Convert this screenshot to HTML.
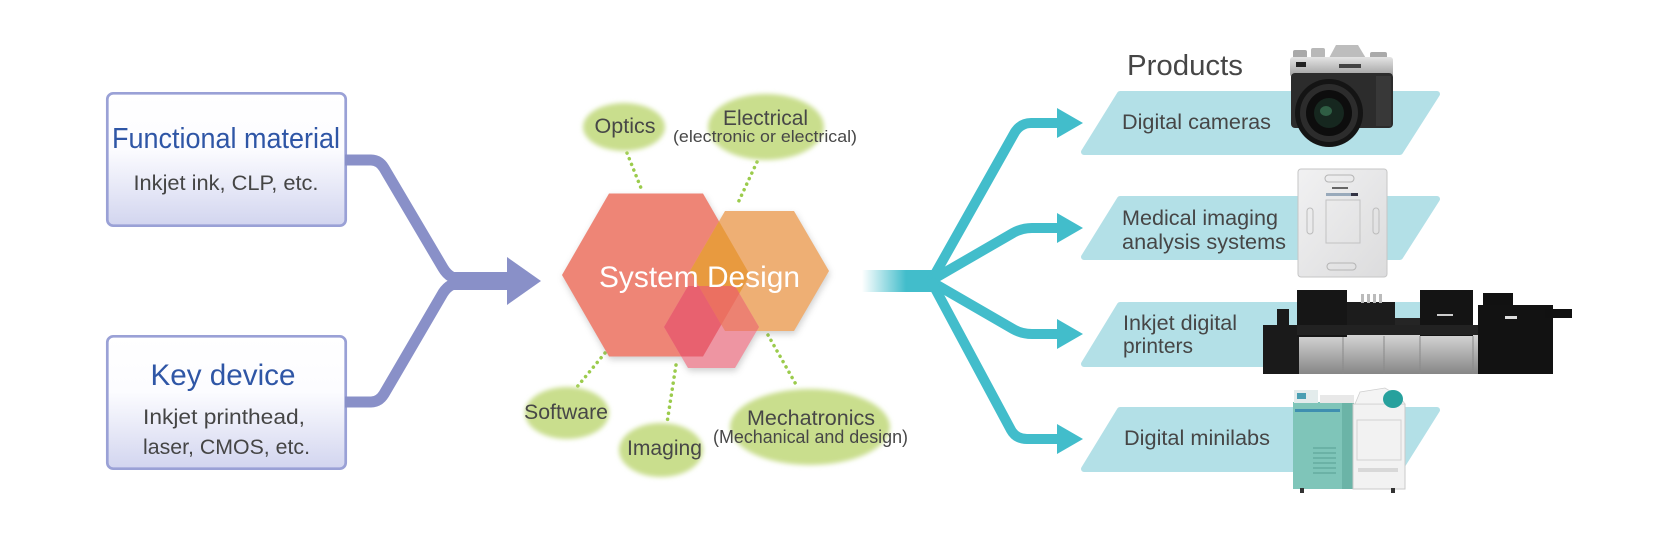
<!DOCTYPE html>
<html><head><meta charset="utf-8"><style>
html,body{margin:0;padding:0;background:#fff;}
svg{display:block;}
text{font-family:"Liberation Sans",Arial,sans-serif;}
</style></head><body>
<svg width="1680" height="540" viewBox="0 0 1680 540" xmlns="http://www.w3.org/2000/svg">
<defs>
 <linearGradient id="boxg" x1="0" y1="0" x2="0" y2="1">
  <stop offset="0" stop-color="#ffffff"/><stop offset="0.42" stop-color="#fcfcff"/><stop offset="1" stop-color="#d2d5ef"/>
 </linearGradient>
 <linearGradient id="tealfade" gradientUnits="userSpaceOnUse" x1="862" y1="0" x2="906" y2="0">
  <stop offset="0" stop-color="#42bdcb" stop-opacity="0"/><stop offset="1" stop-color="#42bdcb"/>
 </linearGradient>
 <linearGradient id="silver" x1="0" y1="0" x2="0" y2="1">
  <stop offset="0" stop-color="#e4e4e4"/><stop offset="1" stop-color="#9d9d9d"/>
 </linearGradient>
 <linearGradient id="pgray" x1="0" y1="0" x2="0" y2="1">
  <stop offset="0" stop-color="#d6d6d6"/><stop offset="1" stop-color="#868686"/>
 </linearGradient>
 <linearGradient id="panel" x1="0" y1="0" x2="1" y2="1">
  <stop offset="0" stop-color="#f1f1f2"/><stop offset="1" stop-color="#dcdcdd"/>
 </linearGradient>
 <filter id="blur3" x="-30%" y="-30%" width="160%" height="160%"><feGaussianBlur stdDeviation="2.5"/></filter>
 <filter id="hexsh" x="-20%" y="-20%" width="140%" height="140%"><feGaussianBlur stdDeviation="3.5"/></filter>
 <clipPath id="cR"><polygon points="562,275 609,193.5 703,193.5 750,275 703,356.5 609,356.5"/></clipPath>
 <clipPath id="cO"><polygon points="690,271 725,211 794,211 829,271 794,331 725,331"/></clipPath>
</defs>

<!-- Left boxes -->
<rect x="107.3" y="93.3" width="238.4" height="132.4" rx="6" fill="url(#boxg)" stroke="#9aa1d6" stroke-width="2.7"/>
<rect x="107.3" y="336.3" width="238.4" height="132.4" rx="6" fill="url(#boxg)" stroke="#9aa1d6" stroke-width="2.7"/>
<text x="226" y="148" font-size="29" fill="#2f56a6" text-anchor="middle" textLength="228" lengthAdjust="spacingAndGlyphs">Functional material</text>
<text x="226" y="190" font-size="21.5" fill="#454545" text-anchor="middle" textLength="185" lengthAdjust="spacingAndGlyphs">Inkjet ink, CLP, etc.</text>
<text x="223" y="385" font-size="29.5" fill="#2f56a6" text-anchor="middle" textLength="145" lengthAdjust="spacingAndGlyphs">Key device</text>
<text x="224" y="424" font-size="21.5" fill="#454545" text-anchor="middle" textLength="162" lengthAdjust="spacingAndGlyphs">Inkjet printhead,</text>
<text x="226.5" y="454" font-size="21.5" fill="#454545" text-anchor="middle" textLength="167" lengthAdjust="spacingAndGlyphs">laser, CMOS, etc.</text>

<!-- Purple connectors -->
<g fill="none" stroke="#8990c8" stroke-width="11" stroke-linejoin="round">
 <path d="M345,160 H371 Q379,160 384,168 L443,268 Q450,280 464,280"/>
 <path d="M345,402 H371 Q379,402 384,394 L443,293 Q450,282 464,282"/>
</g>
<rect x="452" y="272" width="58" height="18" fill="#8990c8"/>
<polygon points="507,257 541,281 507,305" fill="#8990c8"/>

<!-- Dotted green lines -->
<g stroke="#9bcb4c" stroke-width="3.5" stroke-linecap="round" stroke-dasharray="0.1 6" fill="none">
 <line x1="627" y1="153" x2="641" y2="188"/>
 <line x1="757" y1="162" x2="737" y2="205"/>
 <line x1="605" y1="353" x2="577" y2="387"/>
 <line x1="676" y1="365" x2="667" y2="423"/>
 <line x1="768" y1="335" x2="798" y2="388"/>
</g>

<!-- Hexagons -->
<g filter="url(#hexsh)" opacity="0.35" transform="translate(1,3)">
 <polygon points="562,275 609,193.5 703,193.5 750,275 703,356.5 609,356.5" fill="#777"/>
 <polygon points="690,271 725,211 794,211 829,271 794,331 725,331" fill="#777"/>
 <polygon points="664,327 688,286 735,286 759,327 735,368 688,368" fill="#777"/>
</g>
<polygon points="562,275 609,193.5 703,193.5 750,275 703,356.5 609,356.5" fill="#ee8576"/>
<polygon points="690,271 725,211 794,211 829,271 794,331 725,331" fill="#eeaf74"/>
<polygon points="664,327 688,286 735,286 759,327 735,368 688,368" fill="#ee95a2"/>
<polygon points="690,271 725,211 794,211 829,271 794,331 725,331" fill="#e89a3f" clip-path="url(#cR)"/>
<polygon points="664,327 688,286 735,286 759,327 735,368 688,368" fill="#e8616f" clip-path="url(#cR)"/>
<polygon points="664,327 688,286 735,286 759,327 735,368 688,368" fill="#ec8272" clip-path="url(#cO)"/>
<g clip-path="url(#cR)"><polygon points="664,327 688,286 735,286 759,327 735,368 688,368" fill="#eb7061" clip-path="url(#cO)"/></g>
<text x="599" y="287" font-size="30" fill="#ffffff" textLength="201" lengthAdjust="spacingAndGlyphs">System Design</text>

<!-- Green ellipses -->
<g fill="#c9de8d" filter="url(#blur3)">
 <ellipse cx="624" cy="127" rx="41" ry="24"/>
 <ellipse cx="766" cy="127" rx="58" ry="33"/>
 <ellipse cx="567" cy="413" rx="42" ry="26"/>
 <ellipse cx="661" cy="450" rx="42" ry="27"/>
 <ellipse cx="810" cy="427" rx="80" ry="38"/>
</g>
<g fill="#474747" text-anchor="middle">
 <text x="625" y="133" font-size="21.5" textLength="61" lengthAdjust="spacingAndGlyphs">Optics</text>
 <text x="765.5" y="125" font-size="21.5" textLength="85" lengthAdjust="spacingAndGlyphs">Electrical</text>
 <text x="765" y="142" font-size="17" textLength="184" lengthAdjust="spacingAndGlyphs">(electronic or electrical)</text>
 <text x="566" y="419" font-size="21.5" textLength="84" lengthAdjust="spacingAndGlyphs">Software</text>
 <text x="664.5" y="455" font-size="21.5" textLength="75" lengthAdjust="spacingAndGlyphs">Imaging</text>
 <text x="811" y="425" font-size="21.5" textLength="128" lengthAdjust="spacingAndGlyphs">Mechatronics</text>
 <text x="810.5" y="443" font-size="18" textLength="195" lengthAdjust="spacingAndGlyphs">(Mechanical and design)</text>
</g>

<!-- Teal connectors -->
<rect x="862" y="270" width="78" height="22" fill="url(#tealfade)"/>
<g fill="none" stroke="#42bdcb" stroke-width="10" stroke-linejoin="round">
 <path d="M930,283 L1015,132 Q1021,123 1031,123 H1059"/>
 <path d="M930,281 L1013,233 Q1022,228 1032,228 H1059"/>
 <path d="M930,281 L1013,329 Q1022,334 1032,334 H1059"/>
 <path d="M930,279 L1011,430 Q1016,439 1027,439 H1059"/>
</g>
<g fill="#42bdcb">
 <polygon points="1057,108 1083,123 1057,138"/>
 <polygon points="1057,213 1083,228 1057,243"/>
 <polygon points="1057,319 1083,334 1057,349"/>
 <polygon points="1057,424 1083,439 1057,454"/>
</g>

<!-- Banners -->
<g fill="#b3e0e7" stroke="#b3e0e7" stroke-width="6" stroke-linejoin="round">
 <polygon points="1084,152 1120,94 1437,94 1400,152"/>
 <polygon points="1084,257 1120,199 1437,199 1400,257"/>
 <polygon points="1084,364 1120,305 1437,305 1400,364"/>
 <polygon points="1084,469 1120,410 1437,410 1400,469"/>
</g>
<g fill="#464646">
 <text x="1127" y="75" font-size="29" textLength="116" lengthAdjust="spacingAndGlyphs">Products</text>
 <text x="1122" y="129" font-size="21.5" textLength="149" lengthAdjust="spacingAndGlyphs">Digital cameras</text>
 <text x="1122" y="225" font-size="21.5" textLength="156" lengthAdjust="spacingAndGlyphs">Medical imaging</text>
 <text x="1122" y="249" font-size="21.5" textLength="164" lengthAdjust="spacingAndGlyphs">analysis systems</text>
 <text x="1123" y="330" font-size="21.5" textLength="114" lengthAdjust="spacingAndGlyphs">Inkjet digital</text>
 <text x="1123" y="353" font-size="21.5" textLength="70" lengthAdjust="spacingAndGlyphs">printers</text>
 <text x="1124" y="445" font-size="21.5" textLength="146" lengthAdjust="spacingAndGlyphs">Digital minilabs</text>
</g>

<!-- Camera -->
<g>
 <rect x="1293" y="50" width="14" height="9" rx="2" fill="#a9a9a9"/>
 <rect x="1311" y="48" width="14" height="10" rx="2" fill="#b8b8b8"/>
 <rect x="1370" y="52" width="17" height="8" rx="2" fill="#aaaaaa"/>
 <polygon points="1328,60 1336,45 1358,45 1367,60" fill="#bdbdbd"/>
 <rect x="1290" y="57" width="103" height="20" rx="3" fill="url(#silver)"/>
 <rect x="1296" y="62" width="10" height="5" fill="#222"/>
 <rect x="1339" y="64" width="22" height="4" fill="#444"/>
 <rect x="1291" y="73" width="102" height="55" rx="4" fill="#2c2c2c"/>
 <rect x="1376" y="76" width="15" height="50" fill="#383838"/>
 <circle cx="1329" cy="113" r="34" fill="#141414"/>
 <circle cx="1329" cy="113" r="29" fill="#2c2c2c"/>
 <circle cx="1329" cy="113" r="23" fill="#0d0d0d"/>
 <circle cx="1329" cy="113" r="15" fill="#16271f"/>
 <ellipse cx="1326" cy="111" rx="6" ry="5" fill="#2f5e44"/>
</g>

<!-- Medical panel -->
<g>
 <rect x="1298" y="169" width="89" height="108" rx="3" fill="url(#panel)" stroke="#c6c6c6" stroke-width="1"/>
 <rect x="1325" y="175" width="29" height="7" rx="3.5" fill="none" stroke="#b5b5b5"/>
 <rect x="1327" y="263" width="29" height="7" rx="3.5" fill="none" stroke="#b5b5b5"/>
 <rect x="1332" y="187" width="16" height="2" fill="#666"/>
 <rect x="1326" y="193" width="32" height="3" fill="#9ab"/>
 <rect x="1351" y="193" width="7" height="3" fill="#334"/>
 <rect x="1326" y="200" width="34" height="43" fill="none" stroke="#c2c2c2"/>
 <rect x="1307" y="208" width="6" height="26" rx="3" fill="none" stroke="#bcbcbc"/>
 <rect x="1373" y="208" width="6" height="26" rx="3" fill="none" stroke="#bcbcbc"/>
</g>

<!-- Inkjet printer -->
<g>
 <rect x="1297" y="334" width="208" height="40" fill="url(#pgray)"/>
 <g stroke="#8a8a8a" stroke-width="1">
  <line x1="1343" y1="336" x2="1343" y2="374"/>
  <line x1="1384" y1="336" x2="1384" y2="374"/>
  <line x1="1420" y1="336" x2="1420" y2="374"/>
  <line x1="1473" y1="336" x2="1473" y2="374"/>
 </g>
 <rect x="1263" y="325" width="36" height="49" fill="#1a1a1a"/>
 <rect x="1277" y="309" width="12" height="17" fill="#1a1a1a"/>
 <rect x="1297" y="290" width="50" height="47" fill="#161616"/>
 <rect x="1347" y="302" width="48" height="24" fill="#1c1c1c"/>
 <rect x="1361" y="294" width="3" height="9" fill="#bbb"/>
 <rect x="1367" y="294" width="3" height="9" fill="#bbb"/>
 <rect x="1373" y="294" width="3" height="9" fill="#bbb"/>
 <rect x="1379" y="294" width="3" height="9" fill="#bbb"/>
 <rect x="1395" y="318" width="25" height="10" fill="#252525"/>
 <rect x="1420" y="290" width="53" height="46" fill="#141414"/>
 <rect x="1437" y="314" width="16" height="2" fill="#ccc"/>
 <rect x="1297" y="325" width="208" height="10" fill="#222"/>
 <rect x="1483" y="293" width="30" height="16" fill="#111"/>
 <rect x="1478" y="305" width="75" height="69" fill="#121212"/>
 <rect x="1545" y="309" width="27" height="9" fill="#111"/>
 <rect x="1505" y="316" width="12" height="3" fill="#ddd"/>
</g>

<!-- Minilab -->
<g>
 <rect x="1293" y="402" width="61" height="87" fill="#7fc5b9"/>
 <rect x="1342" y="402" width="12" height="87" fill="#6bb4a7"/>
 <rect x="1295" y="409" width="45" height="3" fill="#3f8fb0"/>
 <g stroke="#5fa89b" stroke-width="1.2">
  <line x1="1313" y1="448" x2="1336" y2="448"/>
  <line x1="1313" y1="453" x2="1336" y2="453"/>
  <line x1="1313" y1="458" x2="1336" y2="458"/>
  <line x1="1313" y1="463" x2="1336" y2="463"/>
  <line x1="1313" y1="468" x2="1336" y2="468"/>
  <line x1="1313" y1="473" x2="1336" y2="473"/>
 </g>
 <rect x="1353" y="404" width="52" height="85" fill="#f2f2f2" stroke="#cacaca" stroke-width="1"/>
 <rect x="1357" y="420" width="44" height="40" fill="none" stroke="#d2d2d2"/>
 <rect x="1358" y="468" width="40" height="4" fill="#d8d8d8"/>
 <rect x="1294" y="390" width="24" height="13" fill="#e3ecec"/>
 <rect x="1297" y="393" width="9" height="6" fill="#4a9fb3"/>
 <rect x="1320" y="395" width="34" height="8" fill="#e8e8e8"/>
 <polygon points="1355,404 1360,392 1385,388 1400,397 1405,404" fill="#f4f4f4" stroke="#cfcfcf" stroke-width="0.8"/>
 <ellipse cx="1393" cy="399" rx="10" ry="9" fill="#27a19d"/>
 <rect x="1300" y="488" width="4" height="5" fill="#333"/>
 <rect x="1391" y="488" width="4" height="5" fill="#333"/>
</g>
</svg>
</body></html>
